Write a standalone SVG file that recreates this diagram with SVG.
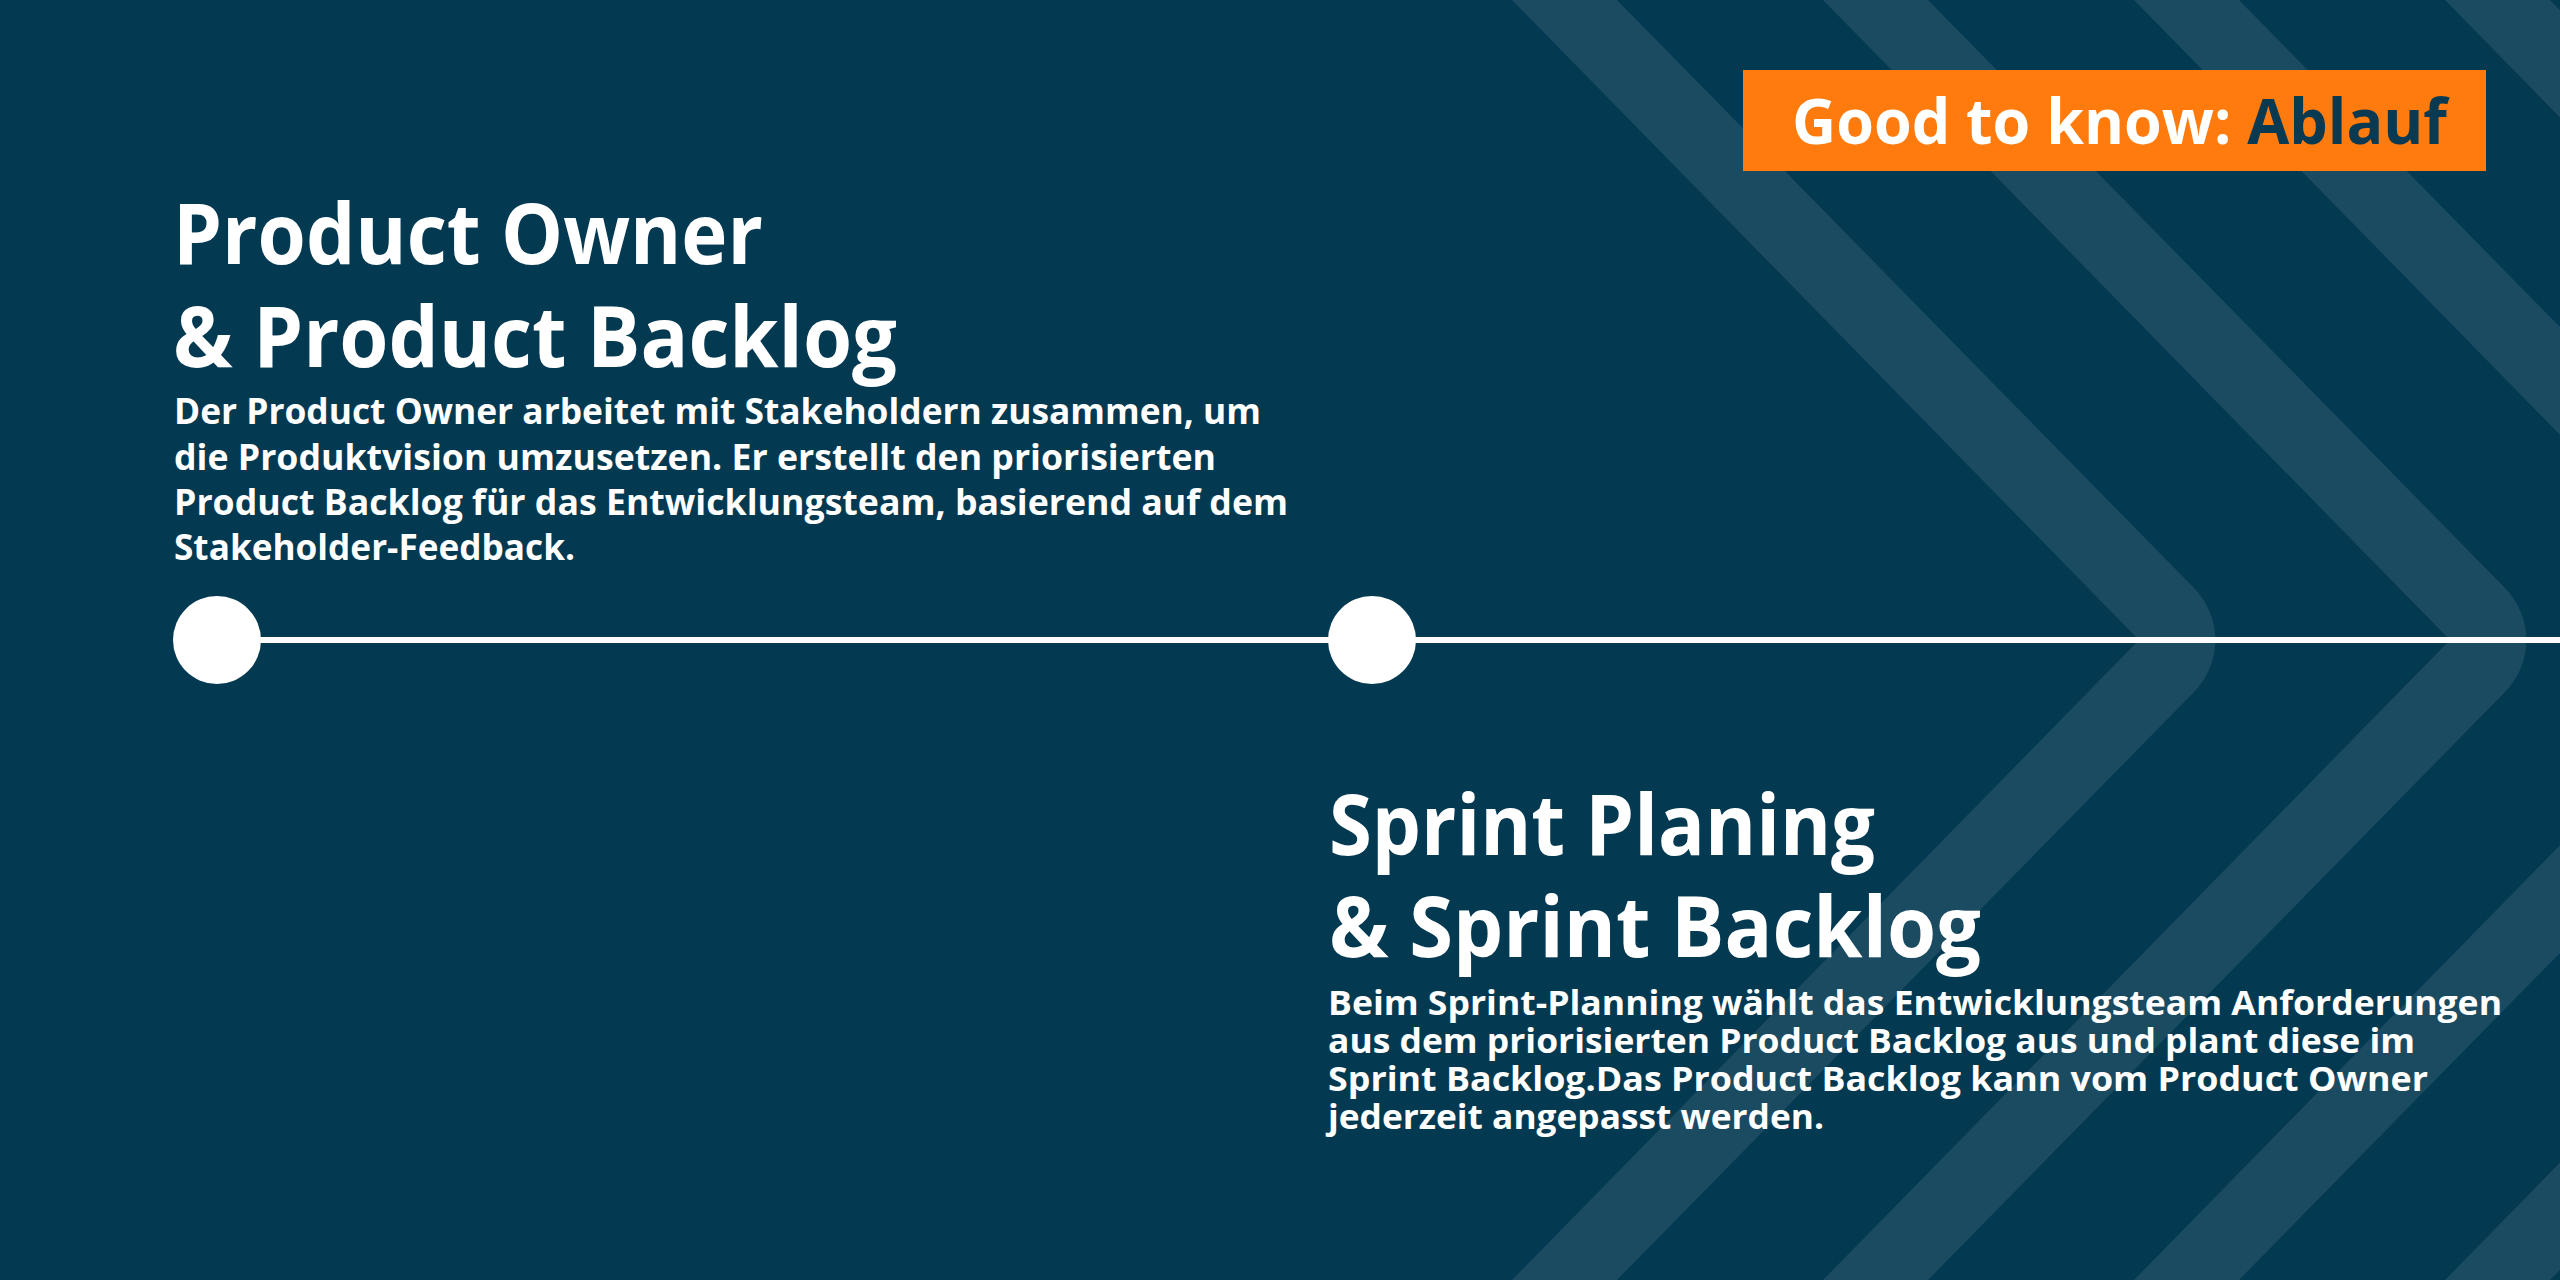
<svg xmlns="http://www.w3.org/2000/svg" width="2560" height="1280" viewBox="0 0 2560 1280">
  <style>
    .bg { fill: #033a51; }
    .stripe { fill: #1b4b60; }
    .dot { fill: #ffffff; }
    .timeline { stroke: #ffffff; stroke-width: 6; fill: none; }
    .head { font-family: "Open Sans", "Noto Sans", "Liberation Sans", sans-serif; font-weight: 700; font-size: 84px; fill: #ffffff; }
    .body1 { font-family: "Open Sans", "Noto Sans", "Liberation Sans", sans-serif; font-weight: 700; font-size: 36px; fill: #ffffff; }
    .body2 { font-family: "Open Sans", "Noto Sans", "Liberation Sans", sans-serif; font-weight: 700; font-size: 34px; fill: #ffffff; }
    .badge-text { font-family: "Open Sans", "Noto Sans", "Liberation Sans", sans-serif; font-weight: 700; font-size: 62px; fill: #ffffff; }
    .badge-dark { fill: #0a3a52; }
  </style>
  <defs>
    <path id="chev" d="M1512,0 L2139,640 L1512,1280 L1617,1280 L2194,692 A74,74 0 0 0 2194,588 L1617,0 Z"/>
  </defs>

  <rect class="bg" x="0" y="0" width="2560" height="1280"/>

  <g id="stripes" class="stripe">
    <use href="#chev" x="0"/>
    <use href="#chev" x="311"/>
    <use href="#chev" x="622"/>
    <use href="#chev" x="933"/>
  </g>

  <g id="connectors">
    <line class="timeline" x1="217" y1="640" x2="2560" y2="640"/>
  </g>

  <g id="badge">
    <rect x="1743" y="70" width="743" height="101" fill="#ff7b0d"/>
    <text class="badge-text" x="1792" y="144" textLength="655" lengthAdjust="spacingAndGlyphs">Good to know: <tspan class="badge-dark">Ablauf</tspan></text>
  </g>

  <g id="node-product-owner">
    <circle class="dot" cx="217" cy="640" r="44"/>
    <text class="head" x="173" y="264" textLength="590" lengthAdjust="spacingAndGlyphs">Product Owner</text>
    <text class="head" x="173" y="367" textLength="724" lengthAdjust="spacingAndGlyphs">&amp; Product Backlog</text>
    <text class="body1" x="174" y="424" textLength="1087" lengthAdjust="spacingAndGlyphs">Der Product Owner arbeitet mit Stakeholdern zusammen, um</text>
    <text class="body1" x="174" y="470" textLength="1042" lengthAdjust="spacingAndGlyphs">die Produktvision umzusetzen. Er erstellt den priorisierten</text>
    <text class="body1" x="174" y="515" textLength="1114" lengthAdjust="spacingAndGlyphs">Product Backlog für das Entwicklungsteam, basierend auf dem</text>
    <text class="body1" x="174" y="560" textLength="401" lengthAdjust="spacingAndGlyphs">Stakeholder-Feedback.</text>
  </g>

  <g id="node-sprint-planning">
    <circle class="dot" cx="1372" cy="640" r="44"/>
    <text class="head" x="1329" y="855" textLength="546" lengthAdjust="spacingAndGlyphs">Sprint Planing</text>
    <text class="head" x="1329" y="957" textLength="652" lengthAdjust="spacingAndGlyphs">&amp; Sprint Backlog</text>
    <text class="body2" x="1328" y="1015" textLength="1174" lengthAdjust="spacingAndGlyphs">Beim Sprint-Planning wählt das Entwicklungsteam Anforderungen</text>
    <text class="body2" x="1328" y="1053" textLength="1087" lengthAdjust="spacingAndGlyphs">aus dem priorisierten Product Backlog aus und plant diese im</text>
    <text class="body2" x="1328" y="1091" textLength="1100" lengthAdjust="spacingAndGlyphs">Sprint Backlog.Das Product Backlog kann vom Product Owner</text>
    <text class="body2" x="1328" y="1129" textLength="496" lengthAdjust="spacingAndGlyphs">jederzeit angepasst werden.</text>
  </g>
</svg>
